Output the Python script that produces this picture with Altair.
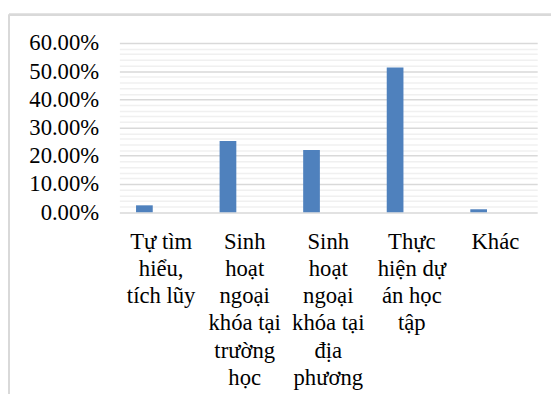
import altair as alt
import pandas as pd

categories = [
    "Tự tìm|hiểu,|tích lũy",
    "Sinh|hoạt|ngoại|khóa tại|trường|học",
    "Sinh|hoạt|ngoại|khóa tại|địa|phương",
    "Thực|hiện dự|án học|tập",
    "Khác",
]
values = [0.0245, 0.253, 0.221, 0.513, 0.0105]
grid_values = [i / 50 for i in range(31)]  # 0%..60% every 2%

df = pd.DataFrame({"cat": categories, "val": values})

FONT = "Liberation Serif"

x_enc = alt.X(
    "cat:N",
    sort=categories,
    scale=alt.Scale(paddingInner=0.8, paddingOuter=0.4),
    axis=alt.Axis(
        title=None,
        labelAngle=0,
        labelExpr="split(datum.label, '|')",
        labelFont=FONT,
        labelFontSize=23,
        labelColor="#000000",
        labelLineHeight=27.5,
        labelPadding=19,
        labelBaseline="top",
        domain=False,
        ticks=False,
        labelLimit=200,
    ),
)

y_enc = alt.Y(
    "val:Q",
    scale=alt.Scale(domain=[0, 0.6], nice=False),
    axis=alt.Axis(
        title=None,
        values=grid_values,
        labelExpr="round(datum.value*100) % 10 == 0 ? format(datum.value, '.2%') : ''",
        labelOverlap=False,
        labelFont=FONT,
        labelFontSize=23,
        labelColor="#000000",
        labelPadding=21,
        domain=False,
        ticks=False,
        gridColor={
            "condition": {"test": "round(datum.value*100) % 10 == 0", "value": "#d9d9d9"},
            "value": "#f0f0f0",
        },
        gridWidth=1.5,
    ),
)

bars = alt.Chart(df).mark_bar(color="#4f81bd", xOffset=-17).encode(x=x_enc, y=y_enc)

frame_left = alt.Chart(df).mark_rule(color="#d9d9d9", strokeWidth=2).encode(
    x=alt.value(-112), y=alt.value(-28.7), y2=alt.value(400)
)
frame_top = alt.Chart(df).mark_rule(color="#d9d9d9", strokeWidth=2).encode(
    x=alt.value(-112), x2=alt.value(460), y=alt.value(-28.7)
)

chart = (
    alt.layer(bars, frame_left, frame_top)
    .properties(
        width=424,
        height=171.7,
        autosize=alt.AutoSizeParams(type="none"),
        padding={"left": 113, "top": 32.7, "right": 14, "bottom": 182},
    )
    .configure(background="#ffffff", font=FONT)
    .configure_axis(labelFont=FONT)
    .configure_view(stroke=None)
)

chart.save("out.html", embed_options={"renderer": "svg", "actions": False})
